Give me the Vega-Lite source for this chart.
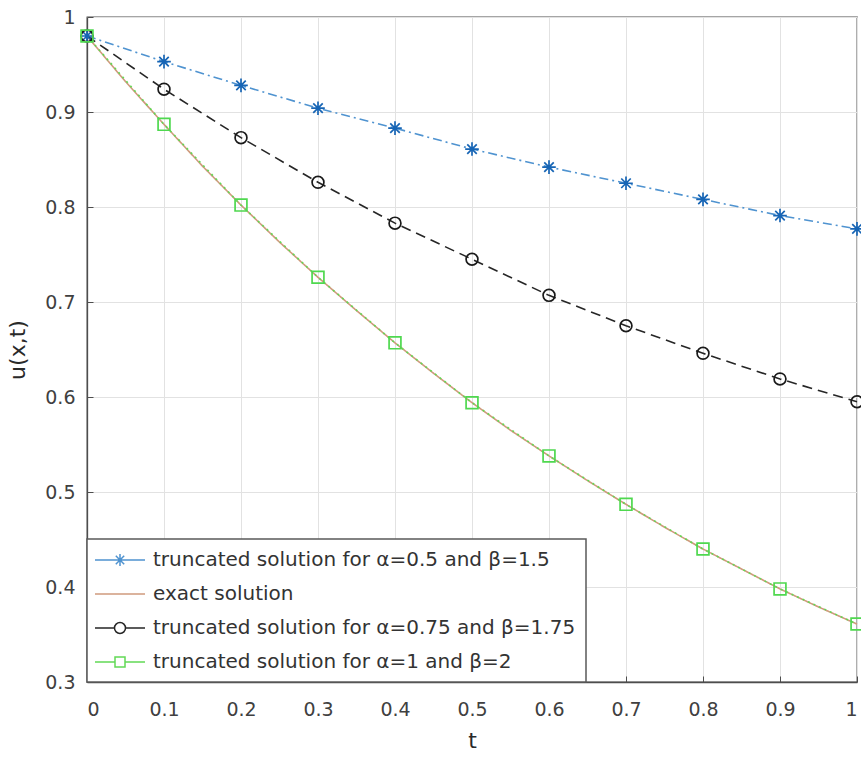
{
  "$schema": "https://vega.github.io/schema/vega-lite/v6.json",
  "width": 770,
  "height": 665,
  "autosize": {"type": "none"},
  "padding": {"left": 87, "top": 17, "right": 4, "bottom": 80},
  "background": "white",
  "config": {
    "font": "DejaVu Sans",
    "view": {"stroke": "#4d4d4d", "strokeWidth": 1.3},
    "axis": {
      "grid": true,
      "gridColor": "#e2e2e2",
      "gridWidth": 1,
      "domainColor": "#4d4d4d",
      "domainWidth": 1.3,
      "tickColor": "#4d4d4d",
      "tickSize": -6,
      "labelColor": "#404040",
      "labelFont": "DejaVu Sans",
      "labelFontSize": 19,
      "titleFont": "DejaVu Sans",
      "titleColor": "#2a2a2a",
      "titleFontSize": 22,
      "titleFontWeight": "normal"
    }
  },
  "datasets": {
    "curves": [
      {"t": 0.0, "u": 0.980, "series": "a05"},
      {"t": 0.1, "u": 0.953, "series": "a05"},
      {"t": 0.2, "u": 0.928, "series": "a05"},
      {"t": 0.3, "u": 0.904, "series": "a05"},
      {"t": 0.4, "u": 0.883, "series": "a05"},
      {"t": 0.5, "u": 0.861, "series": "a05"},
      {"t": 0.6, "u": 0.842, "series": "a05"},
      {"t": 0.7, "u": 0.825, "series": "a05"},
      {"t": 0.8, "u": 0.808, "series": "a05"},
      {"t": 0.9, "u": 0.791, "series": "a05"},
      {"t": 1.0, "u": 0.777, "series": "a05"},

      {"t": 0.00, "u": 0.980, "series": "exact"},
      {"t": 0.05, "u": 0.932, "series": "exact"},
      {"t": 0.10, "u": 0.887, "series": "exact"},
      {"t": 0.15, "u": 0.843, "series": "exact"},
      {"t": 0.20, "u": 0.802, "series": "exact"},
      {"t": 0.25, "u": 0.763, "series": "exact"},
      {"t": 0.30, "u": 0.726, "series": "exact"},
      {"t": 0.35, "u": 0.691, "series": "exact"},
      {"t": 0.40, "u": 0.657, "series": "exact"},
      {"t": 0.45, "u": 0.625, "series": "exact"},
      {"t": 0.50, "u": 0.594, "series": "exact"},
      {"t": 0.55, "u": 0.565, "series": "exact"},
      {"t": 0.60, "u": 0.538, "series": "exact"},
      {"t": 0.65, "u": 0.512, "series": "exact"},
      {"t": 0.70, "u": 0.487, "series": "exact"},
      {"t": 0.75, "u": 0.463, "series": "exact"},
      {"t": 0.80, "u": 0.440, "series": "exact"},
      {"t": 0.85, "u": 0.419, "series": "exact"},
      {"t": 0.90, "u": 0.398, "series": "exact"},
      {"t": 0.95, "u": 0.379, "series": "exact"},
      {"t": 1.00, "u": 0.361, "series": "exact"},

      {"t": 0.0, "u": 0.980, "series": "a075"},
      {"t": 0.1, "u": 0.924, "series": "a075"},
      {"t": 0.2, "u": 0.873, "series": "a075"},
      {"t": 0.3, "u": 0.826, "series": "a075"},
      {"t": 0.4, "u": 0.783, "series": "a075"},
      {"t": 0.5, "u": 0.745, "series": "a075"},
      {"t": 0.6, "u": 0.707, "series": "a075"},
      {"t": 0.7, "u": 0.675, "series": "a075"},
      {"t": 0.8, "u": 0.646, "series": "a075"},
      {"t": 0.9, "u": 0.619, "series": "a075"},
      {"t": 1.0, "u": 0.595, "series": "a075"},

      {"t": 0.0, "u": 0.980, "series": "a1"},
      {"t": 0.1, "u": 0.887, "series": "a1"},
      {"t": 0.2, "u": 0.802, "series": "a1"},
      {"t": 0.3, "u": 0.726, "series": "a1"},
      {"t": 0.4, "u": 0.657, "series": "a1"},
      {"t": 0.5, "u": 0.594, "series": "a1"},
      {"t": 0.6, "u": 0.538, "series": "a1"},
      {"t": 0.7, "u": 0.487, "series": "a1"},
      {"t": 0.8, "u": 0.440, "series": "a1"},
      {"t": 0.9, "u": 0.398, "series": "a1"},
      {"t": 1.0, "u": 0.361, "series": "a1"}
    ]
  },
  "data": {"name": "curves"},
  "encoding": {
    "x": {
      "field": "t",
      "type": "quantitative",
      "scale": {"domain": [0, 1], "nice": false, "zero": false},
      "axis": {
        "title": "t",
        "values": [0, 0.1, 0.2, 0.3, 0.4, 0.5, 0.6, 0.7, 0.8, 0.9, 1],
        "format": "~g",
        "labelPadding": 24,
        "titlePadding": 11
      }
    },
    "y": {
      "field": "u",
      "type": "quantitative",
      "scale": {"domain": [0.3, 1], "nice": false, "zero": false},
      "axis": {
        "title": "u(x,t)",
        "values": [0.3, 0.4, 0.5, 0.6, 0.7, 0.8, 0.9, 1],
        "format": "~g",
        "labelPadding": 18,
        "titlePadding": 15
      }
    }
  },
  "layer": [
    {
      "mark": {"type": "line", "strokeWidth": 1.6},
      "encoding": {
        "color": {
          "field": "series",
          "type": "nominal",
          "scale": {
            "domain": ["a05", "exact", "a075", "a1"],
            "range": ["#4f93d0", "#cf9a7c", "#262626", "#62d955"]
          },
          "legend": {
            "title": null,
            "orient": "bottom-left",
            "offset": 0,
            "fillColor": "white",
            "strokeColor": "#5a5a5a",
            "padding": 10,
            "labelFont": "DejaVu Sans",
            "labelFontSize": 20,
            "labelColor": "#333333",
            "labelLimit": 0,
            "symbolSize": 400,
            "symbolStrokeWidth": 1.5,
            "symbolOffset": 12,
            "labelOffset": 22,
            "rowPadding": 13,
            "labelExpr": "datum.value === 'a05' ? 'truncated solution for α=0.5 and β=1.5' : datum.value === 'exact' ? 'exact solution' : datum.value === 'a075' ? 'truncated solution for α=0.75 and β=1.75' : 'truncated solution for α=1 and β=2'",
            "encode": {
              "legend": {"update": {"strokeWidth": {"value": 1.5}}},
              "symbols": {
                "update": {
                  "fill": {"value": "transparent"},
                  "shape": {
                    "signal": "datum.value === 'exact' ? 'M-2.5,0L2.5,0' : datum.value === 'a05' ? 'M-2.5,0L2.5,0M-0.6,0L0.6,0M0,-0.6L0,0.6M-0.42,-0.42L0.42,0.42M-0.42,0.42L0.42,-0.42' : datum.value === 'a075' ? 'M-2.5,0L-0.55,0M0.55,0L2.5,0M-0.55,0A0.55,0.55,0,1,1,0.55,0A0.55,0.55,0,1,1,-0.55,0' : 'M-2.5,0L-0.5,0M0.5,0L2.5,0M-0.5,-0.5L0.5,-0.5L0.5,0.5L-0.5,0.5Z'"
                  }
                }
              }
            }
          }
        },
        "strokeDash": {
          "condition": [
            {"test": "datum.series === 'a05'", "value": [9, 4, 2, 4]},
            {"test": "datum.series === 'a075'", "value": [10, 6]},
            {"test": "datum.series === 'a1'", "value": [2, 4]}
          ],
          "value": [1, 0]
        }
      }
    },
    {
      "transform": [{"filter": "datum.series !== 'exact'"}],
      "mark": {"type": "point", "filled": false, "strokeWidth": 1.7, "opacity": 1},
      "encoding": {
        "shape": {
          "field": "series",
          "type": "nominal",
          "scale": {
            "domain": ["a05", "a075", "a1"],
            "range": [
              "M-1,0L1,0M0,-1L0,1M-0.7,-0.7L0.7,0.7M-0.7,0.7L0.7,-0.7",
              "circle",
              "square"
            ]
          },
          "legend": null
        },
        "size": {
          "condition": {"test": "datum.series === 'a05'", "value": 185},
          "value": 140
        },
        "stroke": {
          "field": "series",
          "type": "nominal",
          "scale": {
            "domain": ["a05", "a075", "a1"],
            "range": ["#1765b5", "#1a1a1a", "#4fd84f"]
          },
          "legend": null
        }
      }
    }
  ]
}
